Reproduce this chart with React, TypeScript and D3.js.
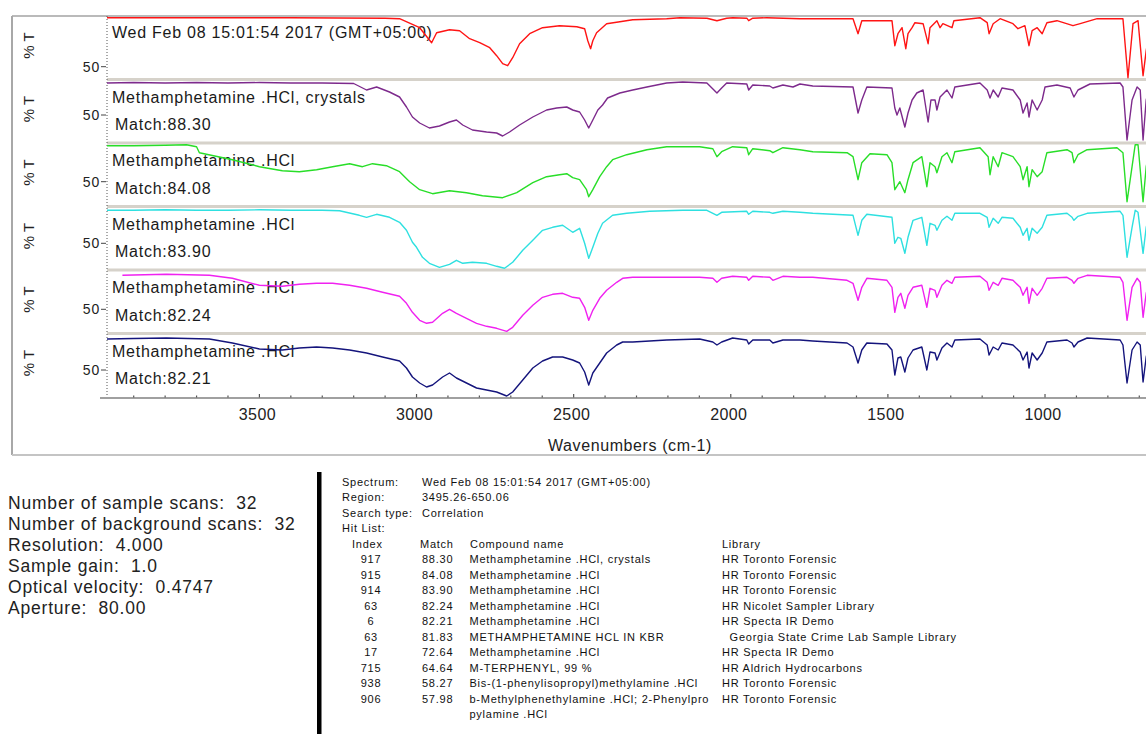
import * as d3 from "d3";

const WIDTH = 1146;
const HEIGHT = 734;

const PLOT_LEFT = 107;
const PLOT_TOP = 16;
const PANEL_H = 63.5;
const AXIS_Y = 398;
const FRAME_LEFT = 12;
const FRAME_BOTTOM = 455;
const FONT = "'Liberation Sans', Arial, sans-serif";

// wavenumber axis
const xDomain = [3985, 650];
const xTicks = [3500, 3000, 2500, 2000, 1500, 1000];

// panels, top to bottom
const panelTitles = [
  "Wed Feb 08 15:01:54 2017 (GMT+05:00)",
  "Methamphetamine .HCl, crystals",
  "Methamphetamine .HCl",
  "Methamphetamine .HCl",
  "Methamphetamine .HCl",
  "Methamphetamine .HCl",
];
const panelMatches = ["", "88.30", "84.08", "83.90", "82.24", "82.21"];
const panelColors = ["#ff1414", "#7d2a8c", "#28de28", "#2ee0e0", "#f022f0", "#14147c"];
// %T shown at the top edge of each panel (each panel spans 63.5 %T)
const panelTopT = [100.7, 85.5, 88.7, 86.8, 89.3, 86.5];
const panelSpanT = 63.5;

// [wavenumber, %T]
const sampleSpectrum = [
  [3987, 99], [3700, 99], [3400, 99], [3100, 98.5], [3054, 98], [2990, 89], [2952, 74], [2936, 84],
  [2895, 87], [2863, 86], [2831, 78], [2799, 74], [2767, 69], [2745, 61], [2726, 53], [2710, 51],
  [2694, 59], [2672, 73], [2640, 83], [2599, 89], [2545, 91], [2490, 90], [2465, 88], [2455, 76],
  [2446, 68], [2439, 76], [2427, 84], [2395, 93], [2353, 95], [2312, 97], [2204, 98], [2162, 99],
  [2076, 98.5], [2044, 96], [2013, 98.5], [1994, 99], [1949, 98.5], [1943, 96], [1930, 98.5],
  [1885, 99], [1780, 98], [1611, 98], [1595, 83], [1583, 96], [1487, 96], [1478, 71], [1468, 83],
  [1455, 89], [1443, 68], [1436, 83], [1423, 89], [1414, 94], [1388, 93], [1372, 73], [1366, 89],
  [1344, 96], [1334, 89], [1325, 93], [1296, 89], [1290, 96], [1207, 99], [1184, 94], [1178, 83],
  [1165, 93], [1143, 98], [1102, 93], [1086, 88], [1064, 91], [1051, 71], [1041, 86], [1025, 89],
  [1009, 83], [994, 94], [962, 96], [911, 91], [888, 93], [834, 98], [752, 98], [736, 39],
  [720, 93], [704, 96], [688, 41], [678, 66], [665, 90],
];

const hit917 = [
  [3987, 82], [3900, 82.5], [3800, 82], [3700, 82.5], [3600, 82], [3500, 82.5], [3400, 82],
  [3300, 82], [3200, 81.5], [3159, 75], [3127, 78], [3086, 73], [3054, 68], [3032, 58], [3013, 48],
  [2990, 42], [2959, 37], [2927, 39], [2895, 43], [2873, 45], [2853, 40], [2822, 35], [2777, 33],
  [2745, 32], [2726, 29], [2704, 33], [2672, 40], [2630, 48], [2586, 55], [2554, 57], [2522, 58],
  [2503, 55], [2481, 53], [2465, 45], [2452, 37], [2439, 45], [2423, 55], [2408, 60], [2392, 67],
  [2353, 72], [2312, 75], [2267, 78], [2204, 82], [2153, 83], [2076, 82], [2044, 72], [2029, 77],
  [2013, 82], [1949, 81], [1943, 75], [1930, 80], [1876, 79], [1866, 77], [1834, 80], [1802, 78],
  [1780, 81], [1739, 79], [1611, 78], [1595, 52], [1583, 65], [1567, 78], [1487, 77], [1478, 57],
  [1471, 50], [1462, 57], [1446, 38], [1436, 52], [1423, 65], [1408, 72], [1388, 75], [1372, 43],
  [1363, 65], [1350, 65], [1344, 55], [1334, 68], [1312, 75], [1296, 67], [1287, 78], [1207, 82],
  [1184, 75], [1175, 67], [1165, 75], [1149, 68], [1137, 77], [1102, 75], [1079, 65], [1070, 52],
  [1057, 62], [1051, 48], [1041, 65], [1025, 55], [1009, 65], [1000, 78], [962, 80], [920, 77],
  [908, 68], [895, 75], [857, 81], [761, 82], [752, 78], [739, 25], [723, 65], [707, 78],
  [697, 75], [688, 25], [678, 65], [665, 80],
];

const hit915 = [
  [3987, 86], [3900, 86], [3800, 86.5], [3732, 87], [3700, 85], [3691, 79], [3586, 72], [3500, 65],
  [3427, 61], [3373, 60], [3318, 62], [3267, 65], [3213, 68], [3172, 65], [3140, 68], [3096, 66],
  [3054, 60], [3022, 50], [2990, 42], [2949, 38], [2895, 41], [2841, 39], [2790, 36], [2726, 34],
  [2681, 39], [2630, 49], [2586, 55], [2545, 57], [2522, 58], [2503, 54], [2481, 52], [2459, 42],
  [2452, 35], [2439, 42], [2417, 55], [2395, 65], [2376, 72], [2331, 77], [2267, 82], [2204, 85],
  [2099, 85], [2057, 83], [2044, 75], [2029, 80], [1994, 85], [1949, 84], [1943, 77], [1930, 83],
  [1876, 81], [1866, 79], [1834, 84], [1780, 82], [1739, 80], [1630, 79], [1611, 75], [1595, 52],
  [1583, 69], [1557, 78], [1503, 77], [1487, 69], [1478, 42], [1462, 50], [1446, 39], [1436, 52],
  [1420, 69], [1392, 75], [1376, 45], [1366, 69], [1350, 65], [1344, 59], [1328, 75], [1312, 79],
  [1296, 69], [1287, 80], [1207, 84], [1181, 75], [1175, 57], [1165, 75], [1149, 65], [1137, 79],
  [1102, 75], [1079, 65], [1070, 52], [1057, 65], [1051, 45], [1041, 62], [1025, 55], [1009, 60],
  [994, 79], [930, 82], [914, 79], [908, 69], [895, 77], [866, 82], [771, 84], [752, 79],
  [739, 30], [723, 65], [713, 87], [704, 87], [688, 30], [678, 65], [665, 85],
];

const hit914 = [
  [3987, 83], [3900, 83], [3800, 83.5], [3700, 83], [3600, 83], [3500, 83.5], [3400, 83],
  [3300, 83], [3245, 82.5], [3182, 78], [3159, 76], [3127, 79], [3086, 76], [3054, 71], [3032, 63],
  [3013, 51], [3000, 46], [2981, 36], [2959, 30], [2927, 26], [2895, 29], [2873, 33], [2853, 30],
  [2822, 31], [2777, 30], [2745, 27], [2720, 25], [2694, 31], [2662, 43], [2630, 53], [2599, 63],
  [2567, 66], [2535, 68], [2503, 61], [2481, 65], [2465, 50], [2452, 35], [2439, 46], [2423, 60],
  [2408, 70], [2376, 78], [2331, 80], [2258, 82], [2153, 83], [2076, 83], [2044, 78], [2029, 81],
  [1949, 82], [1943, 79], [1930, 82], [1876, 81], [1866, 80], [1834, 82], [1780, 81], [1739, 80],
  [1611, 78], [1595, 58], [1583, 73], [1567, 79], [1487, 76], [1478, 50], [1468, 56], [1459, 55],
  [1446, 40], [1436, 56], [1420, 73], [1392, 76], [1376, 48], [1366, 70], [1350, 68], [1344, 63],
  [1328, 73], [1312, 77], [1296, 73], [1287, 80], [1207, 80], [1184, 76], [1178, 66], [1165, 75],
  [1149, 70], [1137, 76], [1102, 75], [1079, 66], [1070, 58], [1057, 65], [1051, 53], [1041, 65],
  [1025, 60], [1009, 66], [994, 78], [930, 80], [914, 76], [908, 73], [895, 77], [866, 80],
  [761, 82], [752, 78], [739, 36], [723, 66], [713, 83], [704, 81], [688, 40], [678, 66], [665, 80],
];

const hit63 = [
  [3936, 84], [3796, 85], [3659, 84], [3586, 81], [3500, 74], [3427, 73], [3373, 75], [3318, 76],
  [3267, 76], [3213, 74], [3159, 71], [3108, 67], [3054, 63], [3032, 56], [3013, 47], [2990, 39],
  [2968, 36], [2949, 37], [2917, 46], [2895, 50], [2873, 46], [2841, 41], [2809, 36], [2777, 33],
  [2745, 31], [2713, 28], [2694, 32], [2662, 44], [2630, 54], [2599, 62], [2567, 65], [2535, 66],
  [2503, 62], [2481, 61], [2465, 52], [2452, 39], [2439, 49], [2417, 61], [2395, 69], [2363, 77],
  [2344, 81], [2312, 82], [2204, 82], [2099, 82], [2057, 81], [2044, 77], [2029, 81], [1994, 83],
  [1949, 82], [1943, 79], [1930, 83], [1876, 82], [1866, 79], [1834, 83], [1780, 82], [1739, 82],
  [1630, 79], [1611, 76], [1595, 59], [1583, 72], [1567, 81], [1503, 79], [1487, 72], [1478, 47],
  [1468, 62], [1459, 66], [1446, 51], [1436, 64], [1420, 72], [1392, 74], [1376, 52], [1366, 71],
  [1350, 69], [1344, 62], [1328, 74], [1312, 79], [1296, 76], [1287, 82], [1207, 83], [1184, 77],
  [1178, 69], [1165, 77], [1149, 74], [1137, 81], [1102, 79], [1079, 72], [1070, 64], [1057, 72],
  [1051, 56], [1041, 71], [1025, 64], [1009, 71], [994, 81], [930, 82], [914, 79], [908, 76],
  [895, 81], [866, 84], [761, 82], [752, 77], [739, 39], [723, 72], [707, 81], [697, 77],
  [688, 42], [678, 66], [665, 80],
];

const hit6 = [
  [3987, 81], [3900, 81.5], [3796, 82], [3659, 81], [3586, 77], [3500, 71], [3427, 70], [3373, 72],
  [3318, 73], [3267, 72], [3213, 70], [3159, 67], [3108, 63], [3054, 59], [3032, 52], [3013, 43],
  [2990, 37], [2968, 33], [2949, 35], [2917, 43], [2895, 47], [2873, 42], [2841, 37], [2809, 32],
  [2777, 30], [2745, 28], [2713, 24], [2694, 28], [2662, 40], [2630, 52], [2599, 59], [2567, 63],
  [2535, 63], [2503, 60], [2481, 57], [2465, 48], [2452, 35], [2439, 47], [2417, 57], [2395, 67],
  [2363, 75], [2344, 78], [2312, 78], [2204, 80], [2099, 81], [2057, 78], [2044, 75], [2029, 78],
  [1994, 82], [1949, 80], [1943, 76], [1930, 80], [1876, 80], [1866, 77], [1834, 80], [1780, 80],
  [1739, 79], [1630, 77], [1611, 73], [1595, 57], [1583, 70], [1567, 77], [1503, 76], [1487, 70],
  [1478, 45], [1468, 62], [1459, 63], [1446, 48], [1436, 62], [1420, 70], [1392, 73], [1376, 50],
  [1366, 68], [1350, 67], [1344, 60], [1328, 72], [1312, 77], [1296, 73], [1287, 80], [1207, 81],
  [1184, 75], [1178, 65], [1165, 73], [1149, 70], [1137, 77], [1102, 75], [1079, 68], [1070, 60],
  [1057, 68], [1051, 52], [1041, 67], [1025, 60], [1009, 67], [994, 78], [930, 80], [914, 77],
  [908, 73], [895, 78], [866, 82], [761, 80], [752, 75], [739, 37], [723, 70], [707, 78],
  [697, 75], [688, 38], [678, 63], [665, 78],
];

const spectra = [sampleSpectrum, hit917, hit915, hit914, hit63, hit6];

// acquisition parameters (bottom left)
const scanInfo = [
  "Number of sample scans:  32",
  "Number of background scans:  32",
  "Resolution:  4.000",
  "Sample gain:  1.0",
  "Optical velocity:  0.4747",
  "Aperture:  80.00",
];

// search report (bottom right)
const reportLabels = ["Spectrum:", "Region:", "Search type:", "Hit List:"];
const reportValues = ["Wed Feb 08 15:01:54 2017 (GMT+05:00)", "3495.26-650.06", "Correlation", ""];
const hitHeader = ["Index", "Match", "Compound name", "Library"];
const hitIndex = ["917", "915", "914", "63", "6", "63", "17", "715", "938", "906"];
const hitMatch = ["88.30", "84.08", "83.90", "82.24", "82.21", "81.83", "72.64", "64.64", "58.27", "57.98"];
const hitCompound = [
  "Methamphetamine .HCl, crystals",
  "Methamphetamine .HCl",
  "Methamphetamine .HCl",
  "Methamphetamine .HCl",
  "Methamphetamine .HCl",
  "METHAMPHETAMINE HCL IN KBR",
  "Methamphetamine .HCl",
  "M-TERPHENYL, 99 %",
  "Bis-(1-phenylisopropyl)methylamine .HCl",
  "b-Methylphenethylamine .HCl; 2-Phenylpro",
];
const hitCompoundWrap = "pylamine .HCl";
const hitLibrary = [
  "HR Toronto Forensic",
  "HR Toronto Forensic",
  "HR Toronto Forensic",
  "HR Nicolet Sampler Library",
  "HR Specta IR Demo",
  "  Georgia State Crime Lab Sample Library",
  "HR Specta IR Demo",
  "HR Aldrich Hydrocarbons",
  "HR Toronto Forensic",
  "HR Toronto Forensic",
];

export default function App() {
  const x = d3.scaleLinear().domain(xDomain).range([PLOT_LEFT, 1155]);
  const minorTicks = d3.range(3900, 600, -100);

  const panels = spectra.map((data, i) => {
    const top = PLOT_TOP + i * PANEL_H;
    const y = d3
      .scaleLinear()
      .domain([panelTopT[i] - panelSpanT, panelTopT[i]])
      .range([top + PANEL_H, top]);
    const line = d3
      .line<number[]>()
      .x((d) => x(d[0]))
      .y((d) => y(d[1]));
    return { top, y, path: line(data) || "" };
  });

  const rowY = (k: number) => 485.5 + k * 15.5;

  return (
    <svg
      width={WIDTH}
      height={HEIGHT}
      style={{ position: "absolute", left: 0, top: 0 }}
      fontFamily={FONT}
    >
      <defs>
        <clipPath id="plot-clip">
          <rect x={PLOT_LEFT} y={0} width={WIDTH - PLOT_LEFT} height={FRAME_BOTTOM} />
        </clipPath>
      </defs>
      <rect width={WIDTH} height={HEIGHT} fill="#fff" />

      {/* outer frame */}
      <line x1={FRAME_LEFT} x2={WIDTH} y1={PLOT_TOP} y2={PLOT_TOP} stroke="#a3a3a3" strokeWidth={1.5} />
      <line x1={FRAME_LEFT} x2={FRAME_LEFT} y1={PLOT_TOP} y2={FRAME_BOTTOM} stroke="#a8a8a8" strokeWidth={2} />
      <line x1={FRAME_LEFT} x2={WIDTH} y1={FRAME_BOTTOM} y2={FRAME_BOTTOM} stroke="#c4c4c4" strokeWidth={2} />

      {/* panel separators */}
      {panels.slice(1).map((p, i) => (
        <line key={i} x1={PLOT_LEFT} x2={WIDTH} y1={p.top} y2={p.top} stroke="#d6d2ca" strokeWidth={3} />
      ))}

      {/* left dotted axis */}
      <line
        x1={PLOT_LEFT}
        x2={PLOT_LEFT}
        y1={PLOT_TOP}
        y2={AXIS_Y}
        stroke="#555"
        strokeWidth={1}
        strokeDasharray="1,2"
      />

      {panels.map((p, i) => {
        const y50 = p.y(50);
        return (
          <g key={i}>
            <text
              transform={`translate(34,${p.top + 29.5}) rotate(-90)`}
              textAnchor="middle"
              fontSize={15}
              fill="#222"
              xmlSpace="preserve"
            >
              % T
            </text>
            <text x={100} y={y50 + 5} textAnchor="end" fontSize={14} letterSpacing={0.8} fill="#222">
              50
            </text>
            <line x1={101} x2={106} y1={y50} y2={y50} stroke="#444" strokeWidth={1} />
            <text x={112} y={p.top + (i === 0 ? 22 : 23)} fontSize={16} letterSpacing={0.75} fill="#1a1a1a">
              {panelTitles[i]}
            </text>
            {panelMatches[i] && (
              <text x={115} y={p.top + 50.5} fontSize={16} letterSpacing={0.75} fill="#1a1a1a">
                {`Match:${panelMatches[i]}`}
              </text>
            )}
          </g>
        );
      })}

      {/* spectra */}
      <g clipPath="url(#plot-clip)">
        {panels.map((p, i) => (
          <path
            key={i}
            d={p.path}
            fill="none"
            stroke={panelColors[i]}
            strokeWidth={1.4}
            strokeLinejoin="round"
          />
        ))}
      </g>

      {/* wavenumber axis */}
      <line x1={100} x2={WIDTH} y1={AXIS_Y} y2={AXIS_Y} stroke="#a0a0a0" strokeWidth={2} />
      {minorTicks.map((t) => (
        <line
          key={t}
          x1={x(t)}
          x2={x(t)}
          y1={xTicks.includes(t) ? AXIS_Y - 4 : AXIS_Y - 2.5}
          y2={AXIS_Y - 0.5}
          stroke="#555"
          strokeWidth={1.2}
        />
      ))}
      {xTicks.map((t) => (
        <text key={t} x={x(t) - 2} y={420} textAnchor="middle" fontSize={16} letterSpacing={0.4} fill="#222">
          {t}
        </text>
      ))}
      <text x={630} y={451} textAnchor="middle" fontSize={16} letterSpacing={0.6} fill="#222">
        Wavenumbers (cm-1)
      </text>

      {/* acquisition parameters */}
      {scanInfo.map((s, i) => (
        <text
          key={i}
          x={8}
          y={509 + i * 20.9}
          fontSize={17.5}
          letterSpacing={0.8}
          fill="#222"
          xmlSpace="preserve"
        >
          {s}
        </text>
      ))}

      {/* divider */}
      <rect x={317} y={472} width={4.5} height={HEIGHT - 472} fill="#000" />

      {/* search report */}
      <g fontSize={11} letterSpacing={0.75} fill="#111">
        {reportLabels.map((s, i) => (
          <text key={s} x={342} y={rowY(i)}>
            {s}
          </text>
        ))}
        {reportValues.map((s, i) => (
          <text key={i} x={422} y={rowY(i)}>
            {s}
          </text>
        ))}
        <text x={352} y={rowY(4)}>{hitHeader[0]}</text>
        <text x={420} y={rowY(4)}>{hitHeader[1]}</text>
        <text x={470} y={rowY(4)}>{hitHeader[2]}</text>
        <text x={722} y={rowY(4)}>{hitHeader[3]}</text>
        {hitIndex.map((s, i) => (
          <g key={i}>
            <text x={371} y={rowY(5 + i)} textAnchor="middle">
              {s}
            </text>
            <text x={422} y={rowY(5 + i)}>{hitMatch[i]}</text>
            <text x={469.5} y={rowY(5 + i)}>{hitCompound[i]}</text>
            <text x={722} y={rowY(5 + i)} xmlSpace="preserve">
              {hitLibrary[i]}
            </text>
          </g>
        ))}
        <text x={469.5} y={rowY(15)}>{hitCompoundWrap}</text>
      </g>
    </svg>
  );
}
